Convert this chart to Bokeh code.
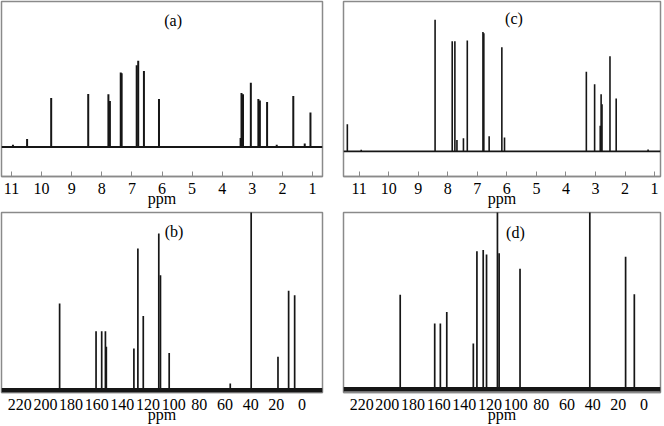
from bokeh.plotting import figure
from bokeh.layouts import gridplot
from bokeh.models import Range1d, FixedTicker, Span, Label
from bokeh.embed import file_html
from bokeh.resources import INLINE

# ---------------- data (peak positions in ppm, relative intensities) ----------------
a_ppm = [10.95, 10.48, 9.68, 8.45, 7.78, 7.73, 7.37, 7.34, 6.84, 6.79, 6.60, 6.10,
         3.39, 3.36, 3.31, 3.05, 2.80, 2.75, 2.51, 2.19, 1.64, 1.26, 1.07]
a_int = [1.6, 5.5, 33.6, 36.4, 36.2, 31.6, 51.2, 50.7, 56.2, 59.2, 52.3, 33.0,
         6.2, 37.1, 36.2, 44.2, 33.0, 32.0, 30.9, 1.6, 35.0, 2.3, 23.7]

c_ppm = [11.40, 10.93, 8.43, 7.85, 7.76, 7.69, 7.47, 7.34, 6.81, 6.78, 6.60, 6.17, 6.08,
         3.31, 3.03, 2.84, 2.81, 2.78, 2.51, 2.30, 1.22]
c_int = [18.1, 1.0, 87.8, 73.5, 73.5, 7.5, 8.8, 73.9, 79.6, 78.8, 10.0, 69.5, 9.3,
         53.1, 44.7, 17.0, 38.1, 31.4, 63.5, 35.2, 1.2]

b_ppm = [188.9, 160.5, 156.1, 153.2, 152.5, 131.0, 127.9, 123.7, 111.6, 110.3, 103.5,
         55.9, 39.6, 18.7, 10.4, 5.7]
b_int = [48.8, 33.2, 33.2, 33.2, 24.4, 23.5, 79.7, 41.7, 88.2, 64.7, 21.0,
         3.8, 102.0, 18.8, 55.9, 53.5]

d_ppm = [190.0, 170.8, 163.1, 158.7, 153.7, 133.0, 130.2, 125.3, 122.7, 114.2, 112.9,
         96.6, 42.2, 14.3, 7.5]
d_int = [53.5, 1.0, 37.1, 37.1, 43.7, 25.9, 78.0, 78.8, 76.2, 102.0, 76.9,
         68.1, 102.0, 75.0, 53.7]

h_ticks = [11, 10, 9, 8, 7, 6, 5, 4, 3, 2, 1]
c13_ticks = [220, 200, 180, 160, 140, 120, 100, 80, 60, 40, 20, 0]

panel_names = ["(a)", "(b)", "(c)", "(d)"]
x_label = "ppm"

FONT = "Liberation Serif"
FRAME = "#8a8a8a"
INK = "#161616"


def make_panel(ppm, inten, xr, yr, ticks, name, name_pos,
               width, height, borders, lw, base_lw, tick_in, standoff, lab_standoff):
    left, right, top, bottom = borders
    p = figure(width=width, height=height, output_backend="svg", toolbar_location=None,
               x_range=Range1d(*xr), y_range=Range1d(*yr), y_axis_location=None,
               min_border_left=left, min_border_right=right,
               min_border_top=top, min_border_bottom=bottom)
    p.grid.visible = False
    p.outline_line_color = FRAME
    p.outline_line_width = 1.5
    p.background_fill_color = "white"
    p.border_fill_color = "white"

    ax = p.xaxis[0]
    ax.ticker = FixedTicker(ticks=ticks)
    ax.axis_line_color = FRAME
    ax.axis_line_width = 1.5
    ax.major_tick_in = tick_in
    ax.major_tick_out = 0
    ax.major_tick_line_color = FRAME if tick_in else None
    ax.minor_tick_line_color = None
    ax.major_label_text_font = FONT
    ax.major_label_text_font_size = "16px"
    ax.major_label_text_line_height = 1.0
    ax.major_label_text_color = "black"
    ax.major_label_standoff = standoff
    ax.axis_label = x_label
    ax.axis_label_text_font = FONT
    ax.axis_label_text_font_size = "16px"
    ax.axis_label_text_line_height = 1.0
    ax.axis_label_text_font_style = "normal"
    ax.axis_label_text_color = "black"
    ax.axis_label_standoff = lab_standoff

    p.add_layout(Span(location=0, dimension="width", line_color=INK, line_width=base_lw))
    p.segment(x0=ppm, y0=[0] * len(ppm), x1=ppm, y1=inten, line_color=INK, line_width=lw)

    p.add_layout(Label(x=name_pos[0], y=name_pos[1], text=name, text_font=FONT,
                       text_font_size="16px", text_align="center", text_baseline="middle",
                       text_color="black"))
    return p


pa = make_panel(a_ppm, a_int, (11.33, 0.67), (-20.3, 100), h_ticks, panel_names[0],
                (5.63, 86.9), 333, 210, (1, 9, 1, 34), 2.0, 2.0, 5, 6, -7)
pc = make_panel(c_ppm, c_int, (11.53, 0.80), (-16.8, 100), h_ticks, panel_names[2],
                (5.76, 88.9), 331, 210, (10, 1, 1, 34), 1.6, 1.6, 5, 6, -7)
pb = make_panel(b_ppm, b_int, (234.2, -16.0), (-1.3, 100), c13_ticks, panel_names[1],
                (99.7, 89.1), 333, 215, (1, 11, 2, 33), 1.7, 4.5, 0, 6, -7)
pd = make_panel(d_ppm, d_int, (234.2, -12.9), (-1.9, 100), c13_ticks, panel_names[3],
                (100.2, 88.7), 331, 215, (9, 4, 2, 33), 1.7, 4.5, 0, 6, -7)

grid = gridplot([[pa, pc], [pb, pd]], toolbar_location=None)

open("out.html", "w").write(file_html(grid, INLINE))
